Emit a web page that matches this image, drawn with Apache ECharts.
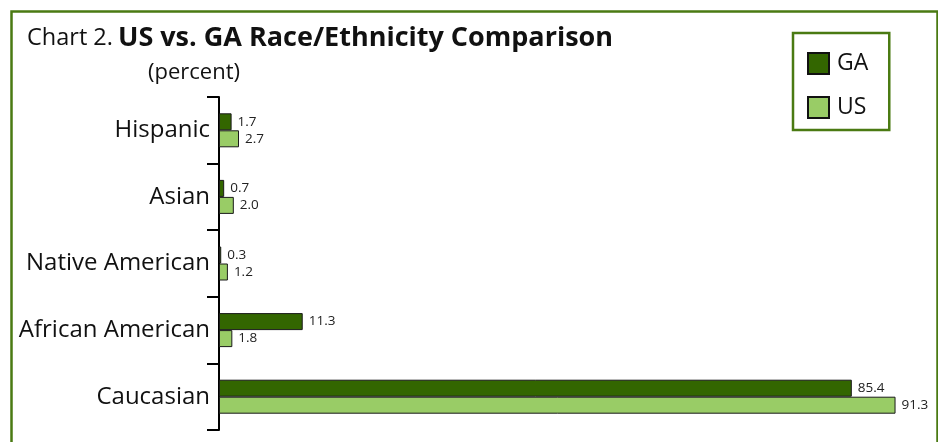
<!DOCTYPE html>
<html>
<head>
<meta charset="utf-8">
<script src="https://cdn.jsdelivr.net/npm/echarts@6/dist/echarts.min.js"></script>
<style>
html,body{margin:0;padding:0;background:#fff;}
#c{width:938px;height:442px;}
</style>
</head>
<body>
<div id="c"></div>
<script>
const categories = ['Hispanic', 'Asian', 'Native American', 'African American', 'Caucasian'];
const gaValues = [1.7, 0.7, 0.3, 11.3, 85.4];
const usValues = [2.7, 2.0, 1.2, 1.8, 91.3];
const seriesNames = ['GA', 'US'];

const FONT = '"Open Sans", "Noto Sans", sans-serif';
const chart = echarts.init(document.getElementById('c'), null, {renderer: 'canvas'});
const labelCfg = {show: true, position: 'right', distance: 6, fontSize: 13.5, color: '#222', fontFamily: FONT,
  formatter: p => p.value.toFixed(1)};
chart.setOption({
  animation: false,
  backgroundColor: '#fff',
  graphic: [{
    type: 'rect', left: 9, top: 9, shape: {width: 926, height: 460},
    style: {fill: 'none', stroke: '#4a7a12', lineWidth: 2.5}
  }],
  title: [{
    left: 22, top: 20,
    text: '{a|Chart 2.}{b|US vs. GA Race/Ethnicity Comparison}',
    textStyle: {
      rich: {
        a: {fontFamily: FONT, fontSize: 23.5, fontWeight: 'normal', color: '#111', padding: [0, 5, 0, 0]},
        b: {fontFamily: FONT, fontSize: 27, fontWeight: 'bold', color: '#111'}
      }
    }
  }, {
    left: 143, top: 57,
    text: '(percent)',
    textStyle: {fontFamily: FONT, fontSize: 22, fontWeight: 'normal', color: '#111'}
  }],
  legend: {
    orient: 'vertical', left: 793, top: 33,
    padding: [19, 21, 11, 14],
    itemGap: 21,
    itemWidth: 21, itemHeight: 21,
    icon: 'rect',
    borderColor: '#4a7a12', borderWidth: 2.5,
    backgroundColor: '#fff',
    textStyle: {fontFamily: FONT, fontSize: 23, color: '#111', padding: [0, 0, 0, 3]},
    itemStyle: {borderColor: '#111', borderWidth: 2},
    data: seriesNames
  },
  grid: {left: 219, top: 97, width: 92 * 7.41, height: 333, containLabel: false},
  xAxis: {type: 'value', min: 0, max: 92, show: false},
  yAxis: {
    type: 'category', data: categories, inverse: true,
    axisLine: {show: true, lineStyle: {color: '#000', width: 2}},
    axisTick: {show: true, length: 12, lineStyle: {color: '#000', width: 2}},
    axisLabel: {fontFamily: FONT, fontSize: 24, color: '#111', margin: 9}
  },
  series: [
    {name: seriesNames[0], type: 'bar', data: gaValues, barWidth: 17, barGap: '0%',
      itemStyle: {color: '#336600', borderColor: '#1a1a1a', borderWidth: 1}, label: labelCfg},
    {name: seriesNames[1], type: 'bar', data: usValues, barWidth: 17, barGap: '0%',
      itemStyle: {color: '#99cc66', borderColor: '#1a1a1a', borderWidth: 1}, label: labelCfg}
  ]
});
</script>
</body>
</html>
